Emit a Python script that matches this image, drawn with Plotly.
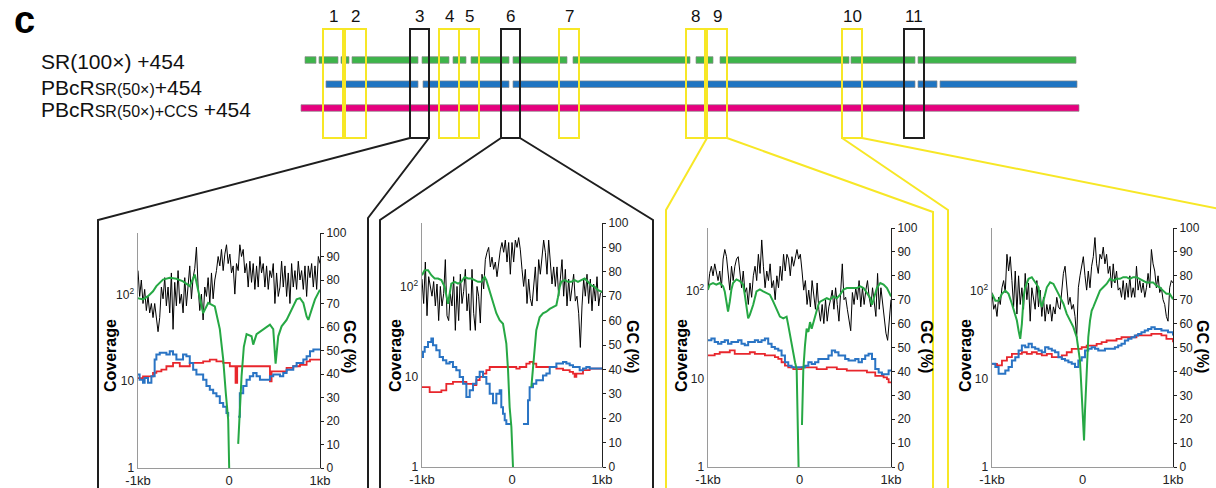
import plotly.graph_objects as go
import numpy as np

W, H = 1216, 488
FONT = "Liberation Sans, Arial, Helvetica, sans-serif"

# ---------------- schematic (assembly tracks) ----------------
track_labels = ["SR(100×) +454",
                "PBcR<span style='font-size:16px'>SR(50×)</span>+454",
                "PBcR<span style='font-size:16px'>SR(50×)+CCS</span> +454"]
track_colors = ["#3db54a", "#1f75c2", "#e6007e"]
track_rows = [60, 84.2, 108]
green_segments = [(305, 316), (319, 338), (341, 344), (346, 349), (352, 418), (422, 449), (453, 466),
                  (471, 509), (513, 567), (573, 690), (696, 713), (720, 849), (851, 915), (918, 1076)]
blue_segments = [(326, 418), (423, 509), (513, 915), (918, 937), (940, 1077)]
magenta_segments = [(301, 1079)]
track_segments = [green_segments, blue_segments, magenta_segments]

region_labels = ["1", "2", "3", "4", "5", "6", "7", "8", "9", "10", "11"]
region_left = [323, 345, 410, 439, 459, 501, 559, 686, 707, 842, 904]
region_right = [343, 366, 429, 459, 479, 520, 579, 705, 727, 862, 924]
region_black = [False, False, True, False, False, True, False, False, False, False, True]
region_top, region_bottom = 29, 138

connectors = [
    ([410, 98, 98], [138, 220, 490], True),
    ([429, 368, 368], [138, 218, 490], True),
    ([501, 380, 380], [138, 220, 490], True),
    ([520, 653, 653], [138, 220, 490], True),
    ([707, 666, 666], [138, 210, 490], False),
    ([727, 933, 933], [138, 212, 490], False),
    ([842, 948, 948], [138, 210, 490], False),
    ([862, 1230], [138, 211], False),
]

# ---------------- zoom panels ----------------
p1_gc = [84,73,80,70,76,67,73,66,70,64, 70,63,58,64,77,72,81,69,77,66, 83,59,79,69,84,70,74,66,81,69,
         78,86,72,81,85,94,77,67,74,63, 77,73,81,70,83,72,80,84,90,86, 93,84,91,95,87,91,83,86,74,87,
         84,95,90,93,83,87,77,88,79,87, 76,86,77,90,83,87,77,86,76,84, 81,87,70,83,73,77,88,77,86,73,
         83,70,87,77,84,76,88,80,84,76, 86,73,86,81,87,77,86,76,90,87]
p1_green_x = [-1000,-945,-890,-835,-798,-761,-725,-651,-578,-505,-431,-376,-284,-229,-156,-101,-64,-35,-9,2,None,
              101,119,138,163,193,248,266,303,376,450,486,512,541,578,633,670,706,743,780,817,853,872,908,945,1000]
p1_green_y = [91,88,96,109,125,136,149,156,152,142,125,170,61,80,73,40,18,7.3,3.6,1,None,
              1.9,5.1,11.4,25,35,33,26.5,35,40,45,40,16,33,43,51,61,73,88,91,80,56,51,67,88,114]
p1_blue_x = [-1000,-982,-945,-927,-890,-853,-817,-798,-761,-688,-651,-615,-578,-541,-505,-468,-431,-394,-358,-321,
             -284,-248,-211,-174,-138,-101,-64,-28,-9,None,
             101,119,156,193,229,266,303,340,413,450,486,523,560,596,633,670,706,743,780,817,853,890,927,1000]
p1_blue_y = [12,10.4,9.6,10.9,9.6,11.4,17.8,20.3,21.3,20.3,22.2,20.3,17.8,17.8,20.3,19.4,16.3,13.6,12,12,
             10.4,8.8,8.0,7.3,6.7,5.6,5.1,4.3,3.9,None,
             3.9,7.3,8.8,10.4,11.4,12.5,11.4,10.4,10.4,11.4,12,12,11.4,12.5,13.6,13.6,14.9,16.3,16.3,17.8,19.4,22.2,23.3,23.3]
p1_red_x = [-1000,-945,-890,-835,-798,-743,-688,-615,-541,-468,-431,-358,-284,-211,-138,-64,9,53,72,90,
            229,413,450,468,560,633,706,780,853,890,1000]
p1_red_y = [10.9,11.4,11.4,12.5,13,13.6,14.9,16.3,14.9,14.9,16.3,16.3,17,17.8,17,16.3,14.9,14.9,9.6,14.9,
            14.9,14.9,10,13,13,14.3,14.9,15.5,17,17.8,17.8]

p2_gc = [77,67,84,62,78,74,70,76,66,75, 60,74,66,71,85,62,60,71,66,78, 56,74,60,79,67,72,81,64,71,56,
         81,63,56,74,70,59,79,73,85,88, 90,82,86,81,84,78,85,89,92,88, 93,84,92,79,92,84,93,90,94,89,
         81,74,81,67,77,69,66,74,82,68, 85,79,85,93,88,79,93,85,75,82, 74,82,70,77,85,70,81,66,77,68,
         74,79,68,70,63,49,66,77,70,79, 67,77,64,75,68,78,66,71,72]
p2_green_x = [-1000,-970,-933,-896,-859,-822,-785,-748,-711,-693,-674,-637,-600,-563,-526,-489,-452,-415,-378,-341,
              -304,-285,-248,-211,-174,-137,-100,-63,-44,-26,-7,11,None,
              215,233,252,270,289,307,344,382,419,456,493,511,530,548,585,622,659,696,733,770,807,844,881,919,956,1000]
p2_green_y = [135,153,153,135,124,124,119,100,65,88,109,114,109,114,129,124,124,119,114,114,
              129,119,88,65,51,42.6,39,23.5,11.9,4.6,2.8,1,None,
              7.7,11.9,21.5,33,39,46,51,53,57,60,62.5,77,100,114,119,114,114,119,114,119,124,114,104,100,92,88]
p2_blue_x = [-1000,-989,-970,-933,-896,-878,-841,-804,-767,-730,-693,-656,-619,-581,-544,-507,-470,-433,-396,-359,
             -322,-285,-248,-211,-174,-137,-119,-100,-81,-63,-7,None,
             122,159,178,196,233,270,307,344,382,419,456,493,530,567,604,641,678,715,752,789,826,863,900,937,1000]
p2_blue_y = [16.7,19,21.5,24.5,26.7,22.5,19.8,16.7,15.3,14.1,14.7,12.9,11.9,10,8.4,6.0,7.1,8.4,10,11.4,
             10,8.4,6.5,5.1,6.5,7.1,4.6,3.9,3.3,3.0,3.0,None,
             3.0,3.0,5.5,7.7,8.4,9.2,9.2,10.4,10.9,12.9,12.9,14.1,14.1,14.7,14.1,13.5,12.9,12.9,11.9,12.4,12.9,12.4,12.4,12.4,12.4]
p2_red_x = [-1000,-915,-785,-730,-656,-507,-433,-396,-359,-322,-285,-248,48,85,159,196,233,270,493,567,
            641,678,696,715,789,863,1000]
p2_red_y = [7.7,6.8,7.1,8.4,8.8,8.4,8.1,9.2,10,10.9,11.9,12.9,12.4,12.9,14.1,14.7,14.1,12.9,12.4,11.9,
            11.4,10.9,10,10.9,11.9,12.4,12.4]

p3_gc = [74,81,84,80,85,81,78,82,75,87, 91,88,80,74,84,78,84,87,88,81, 75,82,73,75,68,77,71,80,84,78,
         89,81,95,84,75,82,78,85,75,78, 70,80,75,84,78,89,82,89,87,80, 88,84,87,91,87,89,82,74,78,68,
         74,67,78,71,66,77,66,61,68,60, 70,61,67,70,74,66,75,68,61,73, 85,70,71,66,61,57,73,68,75,70,
         78,67,75,68,74,78,71,67,75,68, 63,81,66,75,68,63,56,53,61,70]
p3_green_x = [-1000,-982,-945,-909,-872,-835,-817,-799,-781,-762,-744,-726,-689,-653,-616,-598,-580,-561,-543,-506,
              -470,-433,-397,-360,-324,-287,-251,-214,-177,-141,-123,-104,-86,-68,-49,-31,-17,-10,None,
              27,42,60,78,97,115,133,152,170,188,206,225,261,298,334,371,408,444,481,517,
              554,590,627,664,700,737,773,792,810,846,883,919,956,1000]
p3_green_y = [103,117,122,117,122,112,98,75,58,75,103,122,134,128,117,90,63,48.5,53,69,
              98,103,98,94,90,75,63,50.7,48.5,50.7,40.6,31,24,20,15.4,12.9,3.4,1,None,
              3.0,12.9,24,37,34,44,37,44,53,58,69,75,79,82,79,86,82,90,103,107,
              107,107,107,112,107,94,82,69,82,107,122,117,107,86]
p3_blue_x = [-1000,-963,-927,-890,-854,-817,-781,-744,-708,-671,-634,-598,-561,-525,-488,-452,-415,-378,-342,-305,
             -269,-232,-196,-159,-123,-86,-49,-13,24,60,97,133,170,206,243,280,316,353,389,426,
             462,499,536,572,609,645,682,718,755,792,828,865,901,938,974,1000]
p3_blue_y = [27.3,28.6,26.2,25,26.2,27.3,25,26.2,26.2,27.3,25,24,26.2,26.2,27.3,26.2,27.3,28.6,25,22.9,
             21.9,21,18.4,15.4,14.1,13.5,13.5,13.5,13.5,14.1,15.4,14.7,15.4,16.8,16.8,16.8,18.4,21,20,18.4,
             18.4,16.8,16.1,16.1,16.8,15.4,16.8,18.4,19.2,16.8,12.9,11.8,11.3,11.3,12.4,12.4]
p3_red_x = [-1000,-927,-872,-762,-708,-543,-488,-378,-269,-232,-196,-159,-123,-68,24,188,298,408,517,737,
            828,919,956,974,1000]
p3_red_y = [18.4,19.2,20,21,19.2,20,19.2,18.4,17.6,16.8,15.4,14.1,13.5,12.9,13.5,12.9,13.5,12.9,12.4,11.8,
            10.8,10.4,9.9,9.1,9.1]

p4_gc = [73,66,68,63,71,68,75,78,73,89, 82,88,78,67,82,64,80,68,75,66, 81,70,77,61,75,71,66,78,67,74,
         63,71,61,68,64,68,61,67,64,71, 67,66,75,81,84,77,68,71,66,68, 63,54,75,80,84,88,80,74,82,75,
         84,88,96,85,81,89,87,92,85,89, 81,84,75,85,77,82,74,75,71,78, 70,77,71,80,71,75,71,84,74,78,
         73,77,71,75,81,75,91,85,82,75, 80,73,75,70,68,63,61,75,78,77]
p4_green_x = [-1000,-963,-927,-890,-853,-817,-780,-743,-725,-706,-688,-670,-651,-633,-596,-560,-523,-486,-468,-450,
              -431,-394,-358,-321,-284,-248,-211,-174,-138,-101,-64,-46,-28,-9,9,17,28,46,64,83,
              101,119,156,193,229,266,303,339,376,413,450,486,523,560,596,633,670,706,743,780,
              817,853,890,927,963,1000]
p4_green_y = [92,77,77,92,100,92,71,54.5,45.8,35,28.4,42,84,109,136,142,124,109,77,65,
              77,109,124,119,100,84,71,54.5,45.8,38.5,29.6,22.8,16.1,6.8,2.0,2.0,4.4,12.4,29.6,45.8,
              59,65,80,100,109,119,136,130,136,136,142,142,136,142,142,136,130,124,124,124,
              114,109,100,92,92,80]
p4_blue_x = [-1000,-963,-927,-890,-853,-817,-780,-743,-706,-670,-633,-596,-560,-523,-486,-450,-413,-376,-339,-303,
             -266,-229,-193,-156,-119,-83,-46,-9,28,64,101,138,174,211,248,284,321,358,394,431,
             468,505,541,578,615,651,688,725,761,798,835,872,908,945,1000]
p4_blue_y = [14.8,13.6,11.4,11.4,12.4,13.6,16.1,17.6,20.9,23.8,22.8,24.9,22.8,21.9,20.9,20,22.8,21.9,20.9,20,
             17.6,16.8,16.1,15.4,14.8,13.6,16.1,17.6,20.9,21.9,22.8,21.9,20.9,20.9,21.9,21.9,21.9,22.8,23.8,24.9,
             27.2,28.4,29.6,31,32.3,33.8,35.3,36.8,38.5,36.8,36.8,35.3,35.3,33.8,31]
p4_red_x = [-1000,-945,-890,-835,-780,-670,-615,-560,-505,-450,-394,-339,-284,-229,-174,-119,-9,46,156,211,
            266,376,431,596,761,872,927,1000]
p4_red_y = [14.8,14.2,16.1,17.6,19.2,20,19.2,20,19.2,18.4,19.2,17.6,17.6,18.4,20,21.9,22.8,23.8,24.9,26,
            27.2,28.4,29.6,31,32.3,31,28.4,26]

x_tickvals = [-1000, 0, 1000]
x_ticktext = ["-1kb", "0", "1kb"]
cov_tickvals = [1, 10, 100]
cov_ticktext = ["1", "10", "10<sup>2</sup>"]

panels = [
    dict(gc=p1_gc, gx=p1_green_x, gy=p1_green_y, bx=p1_blue_x, by=p1_blue_y, rx=p1_red_x, ry=p1_red_y,
         px=(138, 320), py=(233, 468), cov_lab=110, gc_lab=350),
    dict(gc=p2_gc, gx=p2_green_x, gy=p2_green_y, bx=p2_blue_x, by=p2_blue_y, rx=p2_red_x, ry=p2_red_y,
         px=(422, 602), py=(223, 467), cov_lab=395, gc_lab=633),
    dict(gc=p3_gc, gx=p3_green_x, gy=p3_green_y, bx=p3_blue_x, by=p3_blue_y, rx=p3_red_x, ry=p3_red_y,
         px=(708, 891), py=(228, 467), cov_lab=681, gc_lab=927),
    dict(gc=p4_gc, gx=p4_green_x, gy=p4_green_y, bx=p4_blue_x, by=p4_blue_y, rx=p4_red_x, ry=p4_red_y,
         px=(992, 1173), py=(228, 467), cov_lab=965, gc_lab=1203),
]

GREEN = "#26a844"
BLUE = "#2a74c4"
RED = "#e8262c"
YELLOW = "#f7e726"
DARK = "#1e1e1e"

fig = go.Figure()
layout = dict(width=W, height=H, margin=dict(l=0, r=0, t=0, b=0, pad=0, autoexpand=False),
              paper_bgcolor="white", plot_bgcolor="rgba(0,0,0,0)", showlegend=False,
              font=dict(family=FONT, color="#222"))

for i, p in enumerate(panels):
    n = i + 1
    xs = "" if n == 1 else str(n)
    xa = "x" + xs
    gca = "y" + xs
    cova = "y" + str(n + 4)
    gx = np.linspace(-1000, 1000, len(p["gc"]))
    fig.add_trace(go.Scatter(x=gx, y=p["gc"], xaxis=xa, yaxis=gca, mode="lines",
                             line=dict(color="black", width=1), hoverinfo="skip"))
    fig.add_trace(go.Scatter(x=p["rx"], y=p["ry"], xaxis=xa, yaxis=cova, mode="lines",
                             line=dict(color=RED, width=1.8, shape="hv"), hoverinfo="skip"))
    fig.add_trace(go.Scatter(x=p["bx"], y=p["by"], xaxis=xa, yaxis=cova, mode="lines",
                             line=dict(color=BLUE, width=2, shape="hv"), hoverinfo="skip"))
    fig.add_trace(go.Scatter(x=p["gx"], y=p["gy"], xaxis=xa, yaxis=cova, mode="lines",
                             line=dict(color=GREEN, width=2), hoverinfo="skip"))
    l, r = p["px"]
    t, b = p["py"]
    layout["xaxis" + xs] = dict(domain=[l / W, r / W], anchor=gca, range=[-1000, 1000],
                                tickvals=x_tickvals, ticktext=x_ticktext, showline=True,
                                linecolor="#9a9a9a", linewidth=1.2, ticks="", showgrid=False,
                                zeroline=False, tickfont=dict(size=13, color="#222"), fixedrange=True,
                                automargin=False)
    layout["yaxis" + xs] = dict(domain=[1 - b / H, 1 - t / H], anchor=xa, side="right",
                                range=[0, 100], dtick=10, ticks="outside", ticklen=3, tickcolor="#222",
                                showline=True, linecolor="#222", linewidth=1, showgrid=False,
                                zeroline=False, tickfont=dict(size=12, color="#222"), fixedrange=True,
                                automargin=False)
    layout["yaxis" + str(n + 4)] = dict(overlaying=gca, anchor=xa, side="left", type="log",
                                        range=[0, 2.71], tickvals=cov_tickvals, ticktext=cov_ticktext,
                                        ticks="", showline=True, linecolor="#9a9a9a", linewidth=1.5,
                                        showgrid=False, zeroline=False,
                                        tickfont=dict(size=12, color="#222"), fixedrange=True,
                                        automargin=False)

# schematic overlay axes (full figure)
layout["xaxis5"] = dict(domain=[0, 1], range=[0, W], visible=False, anchor="y9", fixedrange=True,
                        automargin=False)
layout["yaxis9"] = dict(domain=[0, 1], range=[H, 0], visible=False, anchor="x5", fixedrange=True,
                        automargin=False)

shapes = []
for segs, color, row in zip(track_segments, track_colors, track_rows):
    for s, e in segs:
        shapes.append(dict(type="rect", xref="x5", yref="y9", x0=s, x1=e, y0=row - 3.3, y1=row + 3.3,
                           fillcolor=color, line=dict(color="#8a8a8a", width=0.7)))
for lft, rgt, blk in zip(region_left, region_right, region_black):
    shapes.append(dict(type="rect", xref="x5", yref="y9", x0=lft, x1=rgt, y0=region_top, y1=region_bottom,
                       fillcolor="rgba(0,0,0,0)", line=dict(color=DARK if blk else YELLOW, width=2)))
for xs_, ys_, blk in connectors:
    path = "M " + " L ".join(f"{a},{b}" for a, b in zip(xs_, ys_))
    shapes.append(dict(type="path", xref="x5", yref="y9", path=path,
                       line=dict(color=DARK if blk else YELLOW, width=2)))
layout["shapes"] = shapes

ann = []
def px(x):
    return x / W
def py(y):
    return 1 - y / H

def A(x, y, text, size, **kw):
    d = dict(x=px(x), y=py(y), xref="paper", yref="paper", text=text, showarrow=False,
             xanchor=kw.pop("xanchor", "center"), yanchor="middle",
             font=dict(size=size, color=kw.pop("color", "#111"), family=FONT))
    d.update(kw)
    return d

ann.append(A(12, 20, "<b>c</b>", 38, xanchor="left", color="black"))
for lab, yy in zip(track_labels, [61, 87.5, 110]):
    ann.append(A(39, yy, lab, 21, xanchor="left"))
for lab, lft, rgt in zip(region_labels, region_left, region_right):
    ann.append(A((lft + rgt) / 2, 16, lab, 17))
for p in panels:
    ann.append(A(p["cov_lab"], 356, "<b>Coverage</b>", 16, textangle=-90, color="black"))
    ann.append(A(p["gc_lab"], 346, "<b>GC (%)</b>", 16, textangle=90, color="black"))
layout["annotations"] = ann

fig.update_layout(**layout)
fig.write_html("out.html", config={"displayModeBar": False, "staticPlot": True},
               post_script="document.body.style.margin='0';document.body.style.overflow='hidden';")
